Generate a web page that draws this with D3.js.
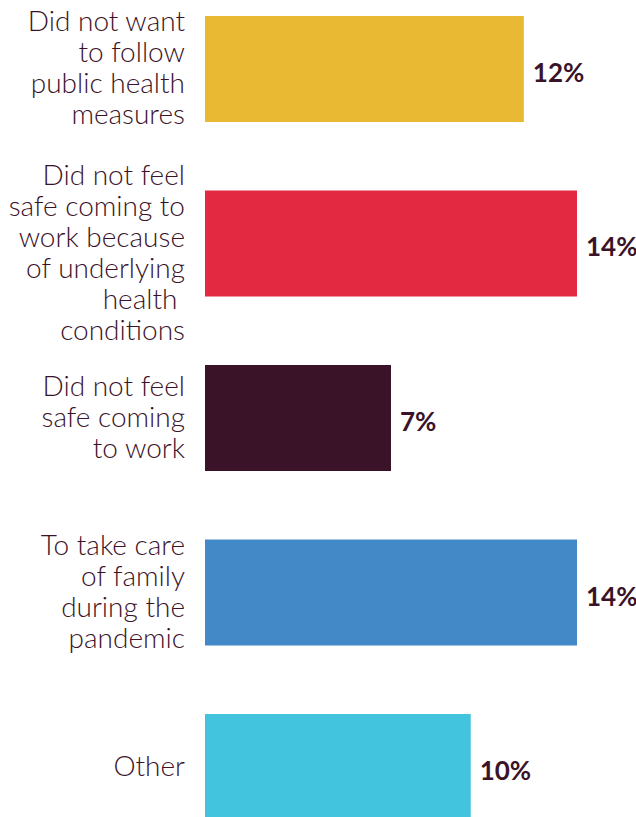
<!DOCTYPE html>
<html>
<head>
<meta charset="utf-8">
<script src="https://cdn.jsdelivr.net/npm/d3@7/dist/d3.min.js"></script>
<style>
  html, body { margin: 0; padding: 0; background: #ffffff; }
  svg { display: block; }
</style>
</head>
<body>
<div id="chart"></div>
<script>
// Reasons for not coming to work (share of respondents, %)
const categories = [
  "Did not want\nto follow\npublic health\nmeasures",
  "Did not feel\nsafe coming to\nwork because\nof underlying\nhealth \nconditions",
  "Did not feel\nsafe coming\nto work",
  "To take care\nof family\nduring the\npandemic",
  "Other"
];
const values = [12, 14, 7, 14, 10];
const valueLabels = ["12%", "14%", "7%", "14%", "10%"];
const colors = ["#E9B934", "#E32941", "#3B1329", "#4389C8", "#42C4DE"];

const width = 636, height = 817;
const textColor = "#3B1329";

const svg = d3.select("#chart").append("svg")
  .attr("width", width)
  .attr("height", height);

const x = d3.scaleLinear().domain([0, 14]).range([205, 577]);
const y = d3.scaleBand()
  .domain(d3.range(categories.length))
  .range([16, 820])
  .paddingInner(0.3926);

const rows = svg.selectAll("g.row")
  .data(categories.map((c, i) => ({ c, v: values[i], lab: valueLabels[i], col: colors[i], i })))
  .join("g")
  .attr("class", "row");

rows.append("rect")
  .attr("x", x(0))
  .attr("y", d => y(d.i))
  .attr("width", d => x(d.v) - x(0))
  .attr("height", y.bandwidth())
  .attr("fill", d => d.col);

// value labels to the right of each bar
rows.append("text")
  .attr("x", d => x(d.v) + 9)
  .attr("y", d => y(d.i) + y.bandwidth() / 2 + 13)
  .attr("fill", textColor)
  .style("font-family", "Lato, 'Open Sans', sans-serif")
  .style("font-weight", 700)
  .style("font-size", "26px")
  .text(d => d.lab);

// category labels, right-aligned, multi-line
const lineHeight = 31;
const labelShift = { 1: 10 }; // the long label sits a little lower
rows.append("text")
  .attr("text-anchor", "end")
  .attr("fill", textColor)
  .style("font-family", "Lato, 'Open Sans', sans-serif")
  .style("font-weight", 300)
  .style("font-size", "28px")
  .style("white-space", "pre")
  .attr("xml:space", "preserve")
  .each(function(d) {
    const lines = d.c.split("\n");
    const cy = y(d.i) + y.bandwidth() / 2;
    const first = cy - (lines.length - 1) * lineHeight / 2 + 9 + (labelShift[d.i] || 0);
    d3.select(this).selectAll("tspan")
      .data(lines)
      .join("tspan")
      .attr("x", 185)
      .attr("y", (l, k) => first + k * lineHeight)
      .text(l => l);
  });
</script>
</body>
</html>
